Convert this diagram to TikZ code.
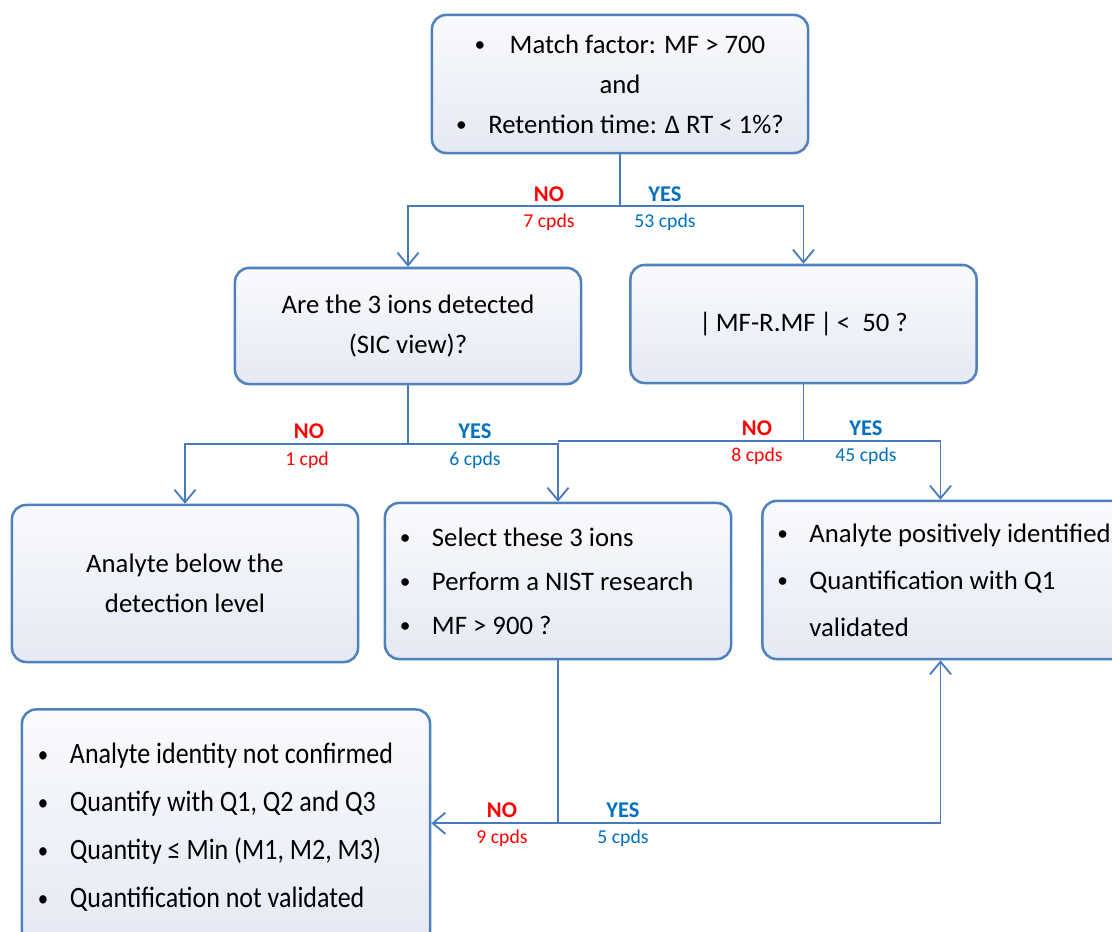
\documentclass[tikz,border=0pt]{standalone}
\usepackage{fontspec}
\setmainfont{Carlito}
\newfontfamily\narrowfont[FakeStretch=0.88]{Carlito}
\usepackage{tikz}
\usetikzlibrary{arrows.meta, positioning, calc}
\definecolor{myblue}{RGB}{79,129,189}
\definecolor{mylink}{RGB}{72,122,190}
\definecolor{myred}{RGB}{255,0,0}
\definecolor{myyes}{RGB}{0,112,192}
\definecolor{hdrtop}{RGB}{249,250,253}
\definecolor{hdrbot}{RGB}{228,233,243}
\newcommand{\dotmark}{\raisebox{0.1ex}{\scalebox{0.8}{\textbullet}}}
\newcommand{\bitem}[1]{\makebox[0.8cm][l]{\dotmark}#1}
\tikzset{
  box/.style={rectangle, draw=myblue, top color=hdrtop, bottom color=hdrbot,
    rounded corners=10pt, line width=1.8pt, inner xsep=0.375cm,
    align=center, font=\fontsize{19}{1cm}\selectfont},
  listbox/.style={box, align=flush left},
  arrow/.style={-{Straight Barb[length=9pt,width=15pt]}, line width=1.3pt, color=mylink},
  line/.style={line width=1.3pt, color=mylink},
  nolbl/.style={font=\fontsize{16}{18}\selectfont\bfseries, text=myred},
  yeslbl/.style={font=\fontsize{16}{18}\selectfont\bfseries, text=myyes},
  nocnt/.style={font=\fontsize{14}{16}\selectfont, text=myred},
  yescnt/.style={font=\fontsize{14}{16}\selectfont, text=myyes}
}
\begin{document}
\begin{tikzpicture}[x=0.025cm, y=-0.025cm]
  \useasboundingbox (0,0) rectangle (1112,932);

  % Boxes
  \node[box, minimum width=9.4cm, minimum height=3.45cm] (match) at (620,84)
    {\makebox[0.875cm][l]{\dotmark}Match factor: MF > 700\\ and\\ \bitem{Retention time: Δ RT < 1\%?}};
  \node[box, minimum width=8.65cm, minimum height=2.9cm] (ions) at (408,326)
    {Are the 3 ions detected\\ (SIC view)?};
  \node[box, minimum width=8.65cm, minimum height=2.95cm] (mfr) at (803.5,324)
    {|\,MF-R.MF\,|\,< \ 50 ?};
  \node[box, minimum width=8.65cm, minimum height=3.925cm] (below) at (185,583.5)
    {Analyte below the\\ detection level};
  \node[listbox, text width=7.9cm, minimum height=3.9cm,
    font=\fontsize{19}{1.1cm}\selectfont] (nist) at (558,581)
    {\bitem{Select these 3 ions}\\ \bitem{Perform a NIST research}\\ \bitem{MF > 900 ?}};
  \node[listbox, text width=8.6cm, minimum height=3.95cm,
    font=\fontsize{19}{1.175cm}\selectfont] (pos) at (949.5,580)
    {\bitem{Analyte positively identified}\\ \bitem{Quantification with Q1}\\ \hspace*{0.8cm}validated};
  \node[listbox, text width=9.4cm, inner xsep=0.4cm, minimum height=5.9cm,
    font=\narrowfont\fontsize{21}{1.2cm}\selectfont] (notconf) at (226,827.5)
    {\bitem{Analyte identity not confirmed}\\ \bitem{Quantify with Q1, Q2 and Q3}\\
     \bitem{Quantity ≤ Min (M1, M2, M3)}\\ \bitem{Quantification not validated}};

  % Connectors
  \coordinate (j1) at ($(match.south)+(0,52)$);
  \draw[line] (match.south) -- (j1);
  \draw[arrow] (j1) -| (ions.north);
  \draw[arrow] (j1) -| (mfr.north);

  \coordinate (j2) at ($(ions.south)+(0,59)$);
  \draw[line] (ions.south) -- (j2);
  \draw[arrow] (j2) -| (below.north);
  \draw[arrow] (j2) -| (nist.north);

  \coordinate (j3) at ($(mfr.south)+(0,57)$);
  \draw[line] (mfr.south) -- (j3) -- (j3 -| nist.north);
  \draw[arrow] (j3) -| ([xshift=-0.225cm]pos.north);

  \coordinate (j4) at ($(nist.south)+(0,163)$);
  \draw[line] (nist.south) -- (j4);
  \draw[arrow] (j4) -- (j4 -| notconf.east);
  \draw[arrow] (j4) -| ([xshift=-0.225cm]pos.south);

  % Labels
  \node[nolbl] (no1) at (549,194) {NO};
  \node[nocnt] (no1n) at (549,222) {7 cpds};
  \node[yeslbl] (yes1) at (665,194) {YES};
  \node[yescnt] (yes1n) at (665,222) {53 cpds};

  \node[nolbl] (no2) at (309,431) {NO};
  \node[nocnt] (no2n) at (307,460) {1 cpd};
  \node[yeslbl] (yes2) at (475,431) {YES};
  \node[yescnt] (yes2n) at (475,460) {6 cpds};

  \node[nolbl] (no3) at (757,428) {NO};
  \node[nocnt] (no3n) at (757,456) {8 cpds};
  \node[yeslbl] (yes3) at (866,428) {YES};
  \node[yescnt] (yes3n) at (866,456) {45 cpds};

  \node[nolbl] (no4) at (502,810) {NO};
  \node[nocnt] (no4n) at (502,838) {9 cpds};
  \node[yeslbl] (yes4) at (623,810) {YES};
  \node[yescnt] (yes4n) at (623,838) {5 cpds};
\end{tikzpicture}
\end{document}
